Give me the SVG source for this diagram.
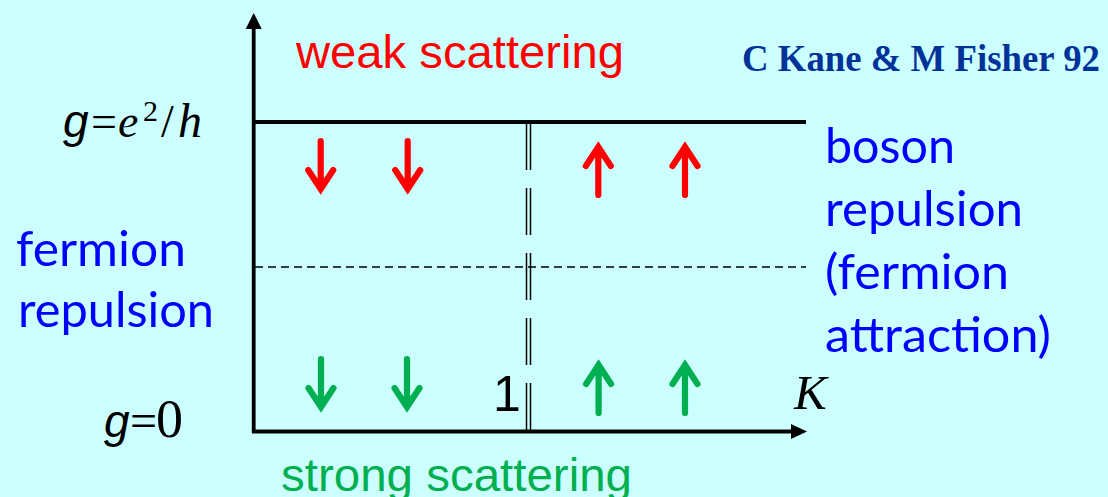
<svg xmlns="http://www.w3.org/2000/svg" width="1108" height="497" viewBox="0 0 1108 497">
<defs>
<style>
.ax{stroke:#000;stroke-width:3.8;fill:none}
.ah{fill:#000;stroke:none}
.dbl{stroke:#000;stroke-width:1.5;stroke-dasharray:47 18;fill:none}
.dsh{stroke:#000;stroke-width:1.3;stroke-dasharray:8 5;fill:none}
.arr{fill:none;stroke-width:6.2;stroke-linecap:round;stroke-linejoin:miter}
.red{stroke:#FF0000}
.grn{stroke:#00B050}
.sans{font-family:"Liberation Sans",Arial,sans-serif}
.blue{font-family:Lato,"Open Sans",sans-serif;font-size:48px;fill:#0000FF}
.ser{font-family:"Liberation Serif","Times New Roman",serif;font-size:46px;fill:#000}
</style>
<path id="down" d="M0 0V48M-12.5 29L0 48L12.5 29"/>
<path id="up" d="M0 53V5M-12.5 24L0 5L12.5 24"/>
</defs>
<rect x="0" y="0" width="1108" height="497" fill="#CCFFFF"/>
<g id="connectors">
<line class="ax" x1="253.7" y1="433" x2="253.7" y2="27"/>
<polygon class="ah" points="253.7,13 245.7,29 261.7,29"/>
<line class="ax" x1="252" y1="431.5" x2="793" y2="431.5"/>
<polygon class="ah" points="807,431.5 791,424 791,439"/>
<line class="ax" x1="252" y1="122" x2="806" y2="122"/>
<line class="dsh" x1="255" y1="267" x2="806" y2="267"/>
<line class="dbl" x1="526.5" y1="123" x2="526.5" y2="431"/>
<line class="dbl" x1="530.5" y1="123" x2="530.5" y2="431"/>
</g>
<g id="arrows">
<use href="#down" class="arr red" x="320.7" y="141"/>
<use href="#down" class="arr red" x="407.7" y="141"/>
<use href="#up" class="arr red" x="598.3" y="142"/>
<use href="#up" class="arr red" x="685" y="142"/>
<use href="#down" class="arr grn" x="321" y="359"/>
<use href="#down" class="arr grn" x="407" y="359"/>
<use href="#up" class="arr grn" x="598.6" y="360"/>
<use href="#up" class="arr grn" x="685" y="360"/>
</g>
<g id="weak">
<text class="sans" x="296" y="68" font-size="46" fill="#FF0000" textLength="328" lengthAdjust="spacingAndGlyphs">weak scattering</text>
</g>
<g id="strong">
<text class="sans" x="281" y="490.5" font-size="47" fill="#00B050" textLength="351" lengthAdjust="spacingAndGlyphs">strong scattering</text>
</g>
<g id="citation">
<text x="742" y="70.5" font-family="'Liberation Serif','Times New Roman',serif" font-weight="bold" font-size="37" fill="#003399" textLength="358" lengthAdjust="spacingAndGlyphs">C Kane &amp; M Fisher 92</text>
</g>
<g id="fermion-repulsion">
<text class="blue" x="16" y="265.5" textLength="170" lengthAdjust="spacingAndGlyphs">fermion</text>
<text class="blue" x="18" y="326.5" textLength="196" lengthAdjust="spacingAndGlyphs">repulsion</text>
</g>
<g id="boson-repulsion">
<text class="blue" x="825" y="163" textLength="130" lengthAdjust="spacingAndGlyphs">boson</text>
<text class="blue" x="825" y="226" textLength="198" lengthAdjust="spacingAndGlyphs">repulsion</text>
<text class="blue" x="825" y="288.5" textLength="184" lengthAdjust="spacingAndGlyphs">(fermion</text>
<text class="blue" x="825" y="351.5" textLength="226" lengthAdjust="spacingAndGlyphs">attraction)</text>
</g>
<g id="g-top">
<text class="ser" y="137"><tspan x="63" font-family="'Liberation Sans',Arial,sans-serif" font-style="italic">g</tspan><tspan x="91" font-size="46">=</tspan><tspan x="118" font-style="italic">e</tspan><tspan x="143" y="121" font-size="30">2</tspan><tspan x="161" y="137">/</tspan><tspan x="178" font-style="italic" font-size="48">h</tspan></text>
</g>
<g id="g-zero">
<text class="ser" y="437"><tspan x="104" font-family="'Liberation Sans',Arial,sans-serif" font-style="italic">g</tspan><tspan x="130" font-size="48">=</tspan><tspan x="156" font-size="54">0</tspan></text>
</g>
<g id="one">
<text class="sans" x="493" y="410.5" font-size="50" fill="#000">1</text>
</g>
<g id="K">
<text x="794" y="409" font-family="'Liberation Serif','Times New Roman',serif" font-style="italic" font-size="49" fill="#000">K</text>
</g>
</svg>
